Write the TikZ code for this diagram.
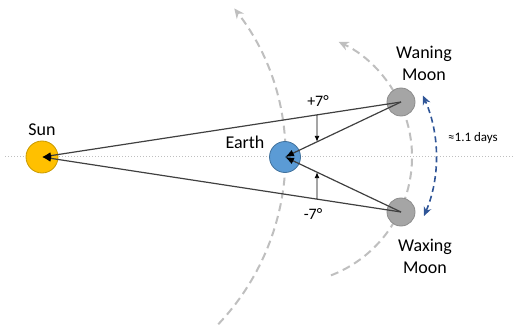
\documentclass[tikz,border=0pt]{standalone}
\usepackage{fontspec}
\setmainfont{Carlito}
\usetikzlibrary{arrows.meta, positioning, calc}
\definecolor{sunfill}{HTML}{FFC000}
\definecolor{sunborder}{HTML}{C99A00}
\definecolor{earthfill}{HTML}{5B9BD5}
\definecolor{earthborder}{HTML}{41719C}
\definecolor{moonfill}{HTML}{A5A5A5}
\definecolor{moonborder}{HTML}{8C8C8C}
\definecolor{orbitgray}{HTML}{BFBFBF}
\definecolor{periodblue}{HTML}{2F5597}
\definecolor{raygray}{HTML}{404040}

\begin{document}
\begin{tikzpicture}[x=1pt, y=1pt,
    body/.style={circle, draw, line width=0.8pt, inner sep=0pt},
    lbl/.style={font=\fontsize{18}{22}\selectfont, align=center, inner sep=0pt},
    anglbl/.style={font=\fontsize{16}{19}\selectfont, inner sep=0pt},
    orbit/.style={draw=orbitgray, line width=2pt, dash pattern=on 8pt off 5pt,
      -{Stealth[length=10pt, width=9pt]}},
    ray/.style={draw=raygray, line width=1.2pt,
      -{Latex[length=9pt, width=7pt, color=black]}},
    tilt/.style={draw=black, line width=0.9pt, -{Latex[length=6pt, width=5pt]}},
    period/.style={draw=periodblue, line width=1.6pt, dash pattern=on 6pt off 4pt,
      {Stealth[length=9pt, width=8pt]}-{Stealth[length=9pt, width=8pt]}}
  ]
  \useasboundingbox (0,0) rectangle (514,327);

  % sun-earth axis
  \coordinate (axl) at (5,170);
  \coordinate (axr) at (514,170);
  \draw[orbitgray, dotted, line width=1pt] (axl) -- (axr);

  % orbits
  \coordinate (sunc) at (42,170);
  \coordinate (earthc) at (285,170);
  \draw[orbit] ([shift={(-43.5:243pt)}]sunc)
    arc[start angle=-43.5, end angle=37.7, radius=243pt];
  \draw[orbit] ([shift={(-68.8:127pt)}]earthc)
    arc[start angle=-68.8, end angle=65, radius=127pt];
  \draw[period] ([shift={(-23:151pt)}]earthc)
    arc[start angle=-23, end angle=24, radius=151pt];

  % bodies
  \node[body, fill=sunfill, draw=sunborder, minimum size=32pt] (sun) at (sunc) {};
  \node[body, fill=earthfill, draw=earthborder, minimum size=31pt] (earth) at (earthc) {};
  \node[body, fill=moonfill, draw=moonborder, minimum size=28pt] (wan) at (401,225) {};
  \node[body, fill=moonfill, draw=moonborder, minimum size=28pt] (wax) at (401,115) {};

  % light paths
  \draw[ray] (wan.center) -- (sun.center);
  \draw[ray] (wan.center) -- (earth.center);
  \draw[ray] (wax.center) -- (sun.center);
  \draw[ray] (wax.center) -- (earth.center);

  % angle markers
  \coordinate (wsun) at ($(sun.center)!0.766!(wan.center)$);
  \coordinate (wearth) at ($(earth.center)!0.276!(wan.center)$);
  \coordinate (xsun) at ($(sun.center)!0.766!(wax.center)$);
  \coordinate (xearth) at ($(earth.center)!0.276!(wax.center)$);
  \draw[tilt] (wsun) -- (wearth);
  \draw[tilt] (xsun) -- (xearth);

  % labels
  \node[lbl, above=5pt of sun] (sunlbl) {Sun};
  \node[lbl] (earthlbl) at (245,185) {Earth};
  \node[lbl] (wanlbl) at (424,264) {Waning\\Moon};
  \node[lbl] (waxlbl) at (425,71) {Waxing\\Moon};
  \node[anglbl] (pluslbl) at (318,226) {+7°};
  \node[anglbl] (minuslbl) at (313,113) {-7°};
  \node[font=\fontsize{13}{15}\selectfont, inner sep=0pt] (daylbl) at (473,189) {≈1.1 days};
\end{tikzpicture}
\end{document}
